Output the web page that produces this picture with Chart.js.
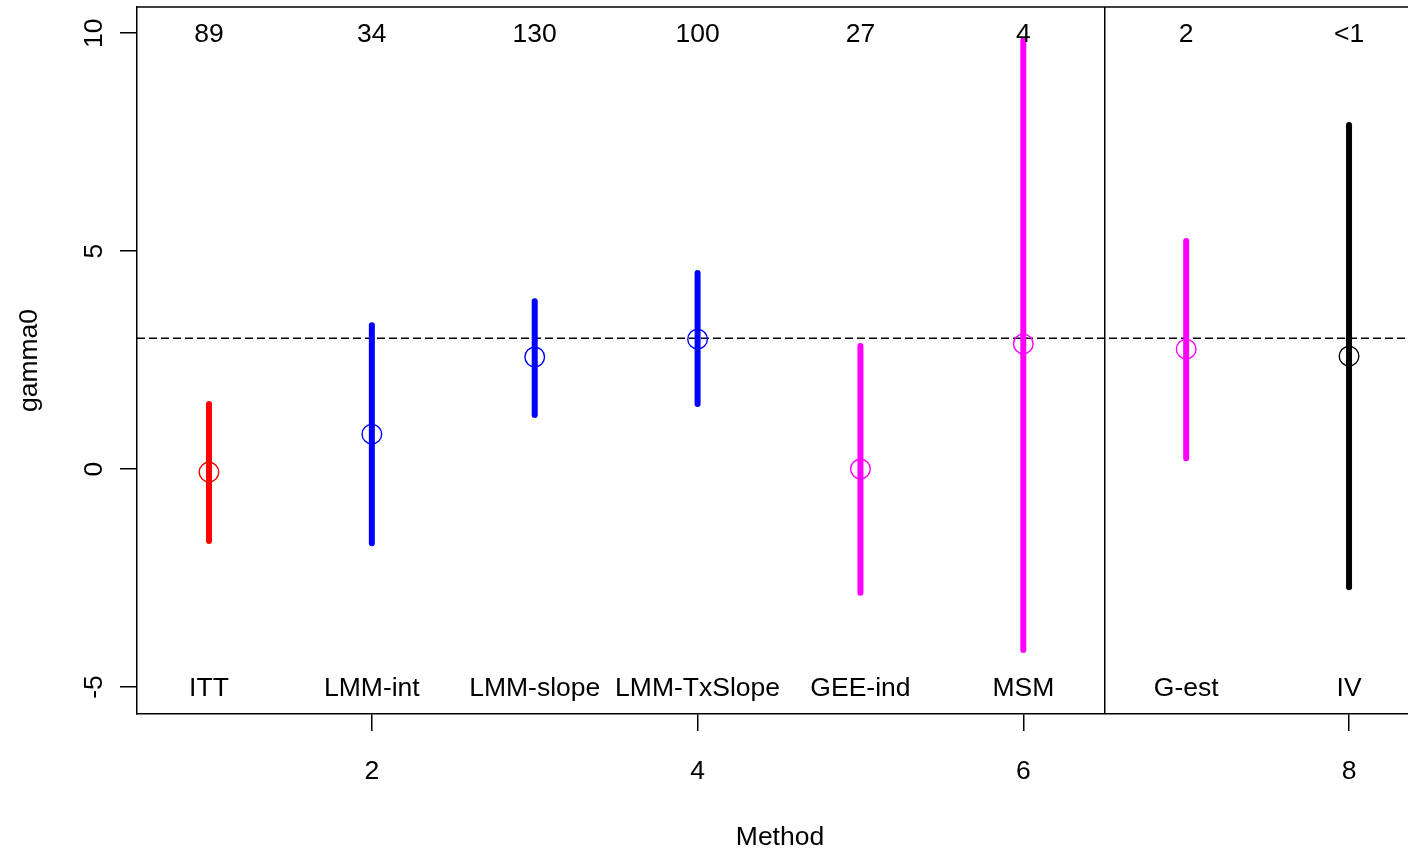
<!DOCTYPE html>
<html>
<head>
<meta charset="utf-8">
<script src="https://cdn.jsdelivr.net/npm/chart.js@4"></script>
<style>
  html, body { margin: 0; padding: 0; background: #fff; overflow: hidden; }
  canvas { display: block; }
</style>
</head>
<body>
<canvas id="ci" width="1408" height="855"></canvas>
<script>
// data
var methods = ['ITT', 'LMM-int', 'LMM-slope', 'LMM-TxSlope', 'GEE-ind', 'MSM', 'G-est', 'IV'];
var xPos = [1, 2, 3, 4, 5, 6, 7, 8];
var estimate = [-0.07, 0.80, 2.57, 2.98, 0.00, 2.87, 2.75, 2.59];
var lower = [-1.65, -1.70, 1.24, 1.49, -2.84, -4.15, 0.25, -2.71];
var upper = [1.49, 3.30, 3.85, 4.50, 2.82, 9.84, 5.23, 7.89];
var counts = ['89', '34', '130', '100', '27', '4', '2', '<1'];
var colors = ['#ff0000', '#0000ff', '#0000ff', '#0000ff', '#ff00ff', '#ff00ff', '#ff00ff', '#000000'];
var xTicks = [2, 4, 6, 8];
var yTicks = [-5, 0, 5, 10];
var trueValue = 3;
var splitAt = 6.5;

var xMin = 0.558, xMax = 8.362;
var yMin = -5.62, yMax = 10.60;
var FONT = '26.5px "Liberation Sans", Arial, sans-serif';
var NUDGE = 2; // canvas 'middle' sits a little higher than R's centring

var datasets = [];

// error bars
for (var i = 0; i < methods.length; i++) {
    datasets.push({
        type: 'line',
        data: [{x: xPos[i], y: lower[i]}, {x: xPos[i], y: upper[i]}],
        borderColor: colors[i],
        borderWidth: 6,
        borderCapStyle: 'round',
        pointRadius: 0,
        order: 1
    });
}

// point estimates
datasets.push({
    type: 'scatter',
    data: xPos.map(function (x, i) { return {x: x, y: estimate[i]}; }),
    pointStyle: 'circle',
    pointRadius: 9.8,
    pointBorderWidth: 1.4,
    pointBorderColor: colors,
    pointBackgroundColor: 'rgba(0,0,0,0)',
    order: 0
});

// reference line and separator
datasets.push({
    type: 'line',
    data: [{x: xMin, y: trueValue}, {x: xMax, y: trueValue}],
    borderColor: '#000',
    borderWidth: 1.5,
    borderDash: [8, 4],
    pointRadius: 0,
    order: 2
});
datasets.push({
    type: 'line',
    data: [{x: splitAt, y: yMin}, {x: splitAt, y: yMax}],
    borderColor: '#000',
    borderWidth: 1.5,
    pointRadius: 0,
    order: 2
});

var textPlugin = {
    id: 'rtext',
    afterDraw: function (chart) {
        var ctx = chart.ctx;
        var xs = chart.scales.x, ys = chart.scales.y, a = chart.chartArea;
        ctx.save();
        // top border of the box
        ctx.strokeStyle = '#000';
        ctx.lineWidth = 1.5;
        ctx.beginPath();
        ctx.moveTo(a.left, a.top);
        ctx.lineTo(a.right, a.top);
        ctx.stroke();

        ctx.fillStyle = '#000';
        ctx.font = FONT;
        ctx.textAlign = 'center';
        ctx.textBaseline = 'middle';
        for (var i = 0; i < methods.length; i++) {
            var px = xs.getPixelForValue(xPos[i]);
            ctx.fillText(counts[i], px, ys.getPixelForValue(10) + NUDGE);
            ctx.fillText(methods[i], px, ys.getPixelForValue(-5) + NUDGE);
        }
        // x tick labels
        xTicks.forEach(function (t) {
            ctx.fillText(String(t), xs.getPixelForValue(t), 770 + NUDGE);
        });
        ctx.fillText('Method', 780, 836 + NUDGE);
        // y tick labels, rotated
        yTicks.forEach(function (t) {
            ctx.save();
            ctx.translate(93, ys.getPixelForValue(t));
            ctx.rotate(-Math.PI / 2);
            ctx.fillText(String(t), 0, NUDGE);
            ctx.restore();
        });
        ctx.save();
        ctx.translate(28, (a.top + a.bottom) / 2);
        ctx.rotate(-Math.PI / 2);
        ctx.fillText('gamma0', 0, NUDGE);
        ctx.restore();
        ctx.restore();
    }
};

new Chart(document.getElementById('ci'), {
    type: 'scatter',
    data: { datasets: datasets },
    options: {
        responsive: false,
        animation: false,
        layout: { autoPadding: false, padding: { top: 7, right: 0, left: 0, bottom: 0 } },
        plugins: {
            legend: { display: false },
            tooltip: { enabled: false }
        },
        scales: {
            x: {
                type: 'linear',
                min: xMin,
                max: xMax,
                afterBuildTicks: function (s) { s.ticks = xTicks.map(function (v) { return {value: v}; }); },
                afterFit: function (s) { s.height = 141; },
                ticks: { display: false },
                grid: { drawOnChartArea: false, tickLength: 17, color: '#000', lineWidth: 1.5 },
                border: { display: true, color: '#000', width: 1.5 }
            },
            y: {
                type: 'linear',
                min: yMin,
                max: yMax,
                afterBuildTicks: function (s) { s.ticks = yTicks.map(function (v) { return {value: v}; }); },
                afterFit: function (s) { s.width = 137; },
                ticks: { display: false },
                grid: { drawOnChartArea: false, tickLength: 17, color: '#000', lineWidth: 1.5 },
                border: { display: true, color: '#000', width: 1.5 }
            }
        }
    },
    plugins: [textPlugin]
});
</script>
</body>
</html>
